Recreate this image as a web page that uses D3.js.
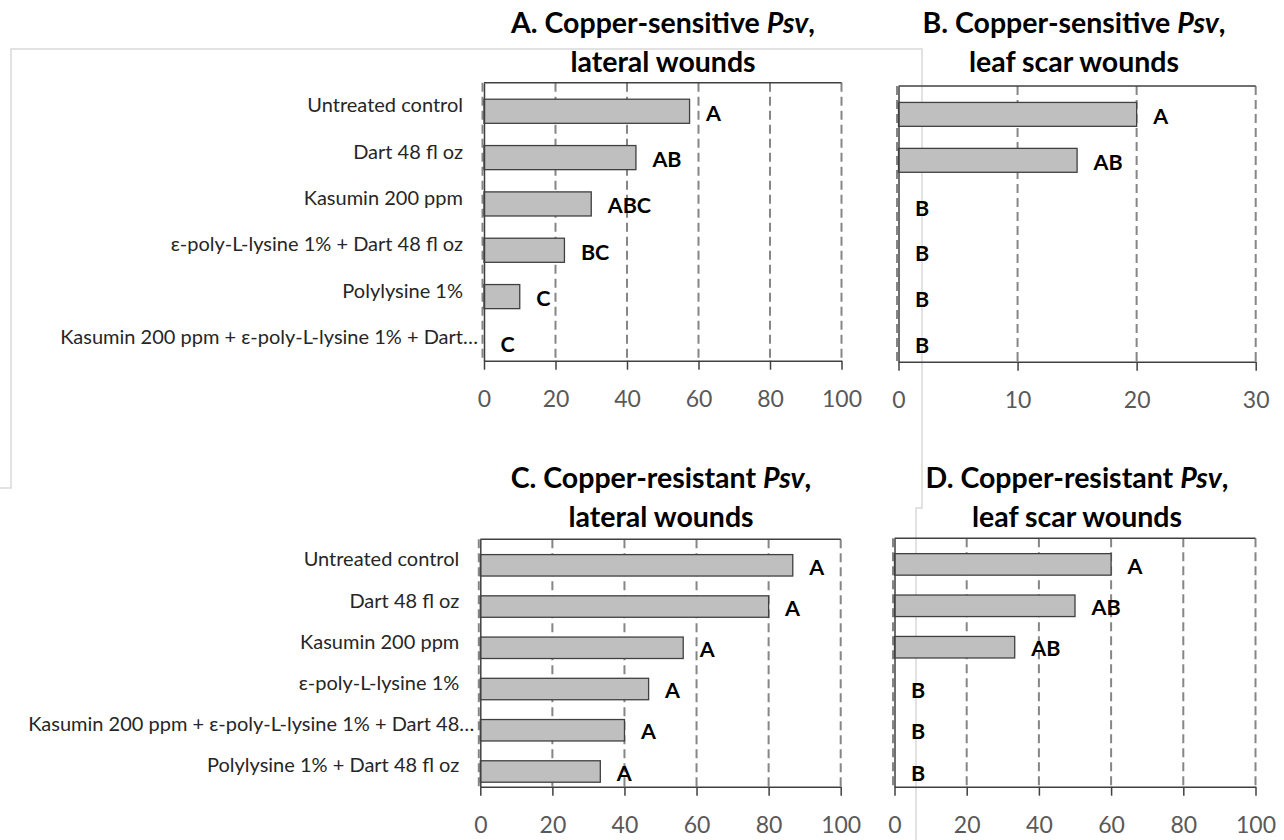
<!DOCTYPE html>
<html>
<head>
<meta charset="utf-8">
<script src="https://cdn.jsdelivr.net/npm/d3@7"></script>
<style>
  body { margin: 0; background: #fff; }
  svg { display: block; }
</style>
</head>
<body>
<div id="chart"></div>
<script>
var width = 1284,
    height = 840;

// Categories, shared by the left and right panel of each row
var catsTop = ['Untreated control', 'Dart 48 fl oz', 'Kasumin 200 ppm',
    'ε-poly-L-lysine 1% + Dart 48 fl oz', 'Polylysine 1%',
    'Kasumin 200 ppm + ε-poly-L-lysine 1% + Dart…'];
var catsBottom = ['Untreated control', 'Dart 48 fl oz', 'Kasumin 200 ppm',
    'ε-poly-L-lysine 1%', 'Kasumin 200 ppm + ε-poly-L-lysine 1% + Dart 48…',
    'Polylysine 1% + Dart 48 fl oz'];

// Values (%) and letter groups
var valsA = [57.5, 42.5, 30, 22.5, 10, 0];
var lettersA = ['A', 'AB', 'ABC', 'BC', 'C', 'C'];
var valsB = [20, 15, 0, 0, 0, 0];
var lettersB = ['A', 'AB', 'B', 'B', 'B', 'B'];
var valsC = [86.7, 80, 56.3, 46.7, 40, 33.3];
var lettersC = ['A', 'A', 'A', 'A', 'A', 'A'];
var valsD = [60, 50, 33.3, 0, 0, 0];
var lettersD = ['A', 'AB', 'AB', 'B', 'B', 'B'];

var ticksPct = [0, 20, 40, 60, 80, 100];
var ticksB = [0, 10, 20, 30];

var titleA = ['A. Copper-sensitive ', 'Psv', ',', 'lateral wounds'];
var titleB = ['B. Copper-sensitive ', 'Psv', ',', 'leaf scar wounds'];
var titleC = ['C. Copper-resistant ', 'Psv', ',', 'lateral wounds'];
var titleD = ['D. Copper-resistant ', 'Psv', ',', 'leaf scar wounds'];

var font = 'Lato, "Open Sans", sans-serif';

var svg = d3.select('#chart').append('svg')
    .attr('width', width)
    .attr('height', height)
    .style('font-family', font);

// faint border of a neighbouring chart object, left in the screenshot
svg.append('path')
    .attr('d', d3.line()([[0, 488], [11, 488], [11, 49], [922, 49], [922, 508], [916, 508], [916, 840]]))
    .attr('fill', 'none')
    .attr('stroke', '#d9d9d9')
    .attr('stroke-width', 1.5);

var panels = [
    {x0: 484, x1: 841.5, top: 82.7, bottom: 360.7, max: 100, ticks: ticksPct,
     cats: catsTop, vals: valsA, letters: lettersA, title: titleA, tx: 663, ty: 33, labels: true},
    {x0: 898.5, x1: 1255.7, top: 86, bottom: 361.7, max: 30, ticks: ticksB,
     cats: catsTop, vals: valsB, letters: lettersB, title: titleB, tx: 1074, ty: 33, labels: false},
    {x0: 480.3, x1: 840.7, top: 539.3, bottom: 786.7, max: 100, ticks: ticksPct,
     cats: catsBottom, vals: valsC, letters: lettersC, title: titleC, tx: 661, ty: 488, labels: true},
    {x0: 894.5, x1: 1255.5, top: 538.3, bottom: 786.7, max: 100, ticks: ticksPct,
     cats: catsBottom, vals: valsD, letters: lettersD, title: titleD, tx: 1077, ty: 488, labels: false}
];

panels.forEach(draw);

function draw(p) {
    var x = d3.scaleLinear().domain([0, p.max]).range([p.x0, p.x1]);
    var y = d3.scaleBand().domain(p.cats).range([p.top, p.bottom]);
    var barH = y.bandwidth() * 0.52,
        shift = 5.4;

    var g = svg.append('g');

    // dashed gridlines
    g.selectAll('line.grid').data(p.ticks).enter()
      .append('line')
        .attr('class', 'grid')
        .attr('x1', function(d) { return x(d) - (d === 0 ? 1.5 : 0); })
        .attr('x2', function(d) { return x(d) - (d === 0 ? 1.5 : 0); })
        .attr('y1', p.top).attr('y2', p.bottom)
        .attr('stroke', '#868686')
        .attr('stroke-width', 2)
        .attr('stroke-dasharray', '9,5');

    // top edge of plot area
    g.append('line')
        .attr('x1', p.x0).attr('x2', x(p.max))
        .attr('y1', p.top).attr('y2', p.top)
        .attr('stroke', '#404040').attr('stroke-width', 1.5);

    var rows = p.cats.map(function(c, i) {
        return {cat: c, val: p.vals[i], letter: p.letters[i]};
    });

    g.selectAll('rect').data(rows.filter(function(d) { return d.val > 0; })).enter()
      .append('rect')
        .attr('x', x(0))
        .attr('y', function(d) { return y(d.cat) + y.bandwidth() / 2 + shift - barH / 2; })
        .attr('width', function(d) { return x(d.val) - x(0); })
        .attr('height', barH)
        .attr('fill', '#bfbfbf')
        .attr('stroke', '#404040')
        .attr('stroke-width', 1.3);

    g.selectAll('text.letter').data(rows).enter()
      .append('text')
        .attr('class', 'letter')
        .attr('x', function(d) { return x(d.val) + 16.5; })
        .attr('y', function(d) { return y(d.cat) + y.bandwidth() / 2 + shift + 1.5; })
        .attr('dy', '0.36em')
        .style('font-size', '21.5px')
        .style('font-weight', 'bold')
        .attr('fill', '#000')
        .text(function(d) { return d.letter; });

    // value axis
    var xAxis = g.append('g')
        .attr('transform', 'translate(0,' + p.bottom + ')')
        .call(d3.axisBottom(x).tickValues(p.ticks).tickSize(9).tickSizeOuter(0));
    xAxis.select('.domain').attr('stroke', '#404040').attr('stroke-width', 1.5);
    xAxis.selectAll('.tick line').attr('stroke', '#404040').attr('stroke-width', 1.5);
    xAxis.selectAll('.tick text')
        .attr('y', 46).attr('dy', null)
        .attr('fill', '#595959')
        .style('font-family', font)
        .style('font-size', '23px');

    // category axis
    var yAxis = g.append('g')
        .attr('transform', 'translate(' + p.x0 + ',0)')
        .call(d3.axisLeft(y).tickSize(0).tickPadding(21));
    yAxis.select('.domain').attr('stroke', '#404040').attr('stroke-width', 1.5);
    yAxis.selectAll('.tick text')
        .attr('fill', '#262626')
        .style('font-family', font)
        .style('font-size', '20px')
        .attr('x', function(d) { return /…$/.test(d) ? -6 : -21; })
        .style('display', p.labels ? null : 'none');

    // two-line title
    var t = svg.append('text')
        .attr('x', p.tx).attr('y', p.ty)
        .attr('text-anchor', 'middle')
        .style('font-size', '28.5px')
        .style('font-weight', 'bold')
        .attr('fill', '#000');
    t.append('tspan').text(p.title[0]);
    t.append('tspan').style('font-style', 'italic').text(p.title[1]);
    t.append('tspan').text(p.title[2]);
    svg.append('text')
        .attr('x', p.tx).attr('y', p.ty + 38.5)
        .attr('text-anchor', 'middle')
        .style('font-size', '28.5px')
        .style('font-weight', 'bold')
        .attr('fill', '#000')
        .text(p.title[3]);
}
</script>
</body>
</html>
